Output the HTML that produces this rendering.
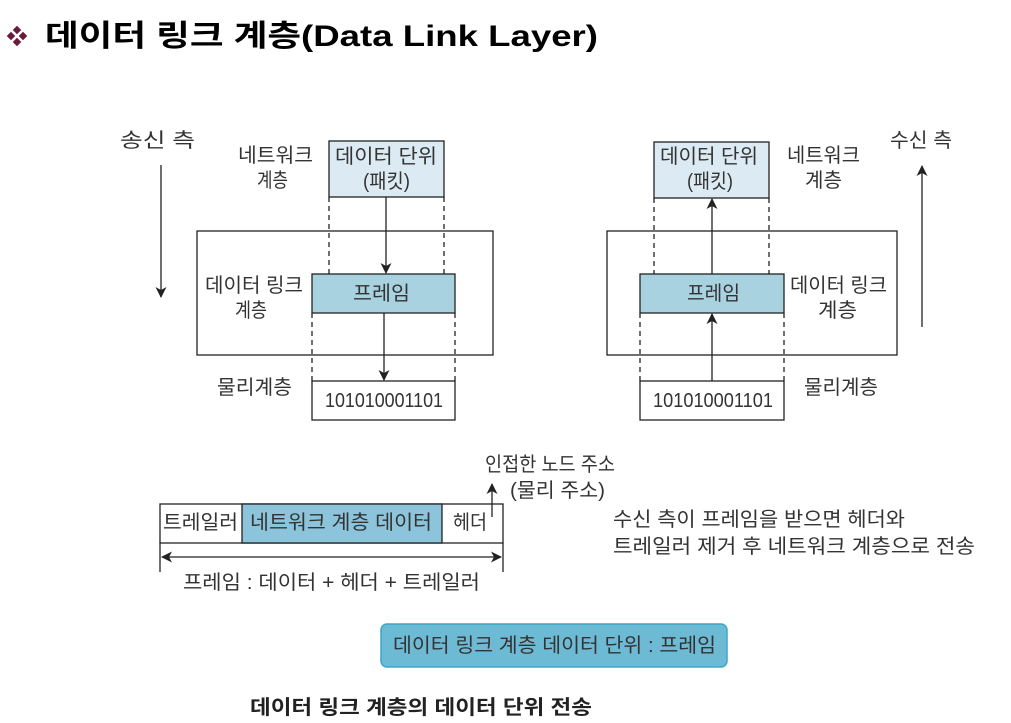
<!DOCTYPE html>
<html><head><meta charset="utf-8"><style>
html,body{margin:0;padding:0;background:#fff;}
svg{display:block;}
text{font-family:"Liberation Sans","Noto Sans CJK KR",sans-serif;fill:#333;font-size:20px;}
</style></head><body>
<svg width="1011" height="723" viewBox="0 0 1011 723">
<defs><marker id="a" markerWidth="11" markerHeight="11" refX="10" refY="5.5" orient="auto-start-reverse" markerUnits="userSpaceOnUse"><path d="M0,0 L11,5.5 L0,11 L3,5.5 z" fill="#222"/></marker></defs>
<g fill="#6a1a3a">
<rect x="14" y="27" width="6" height="6" transform="rotate(45 17 30)"/>
<rect x="14" y="39" width="6" height="6" transform="rotate(45 17 42)"/>
<rect x="8" y="33" width="6" height="6" transform="rotate(45 11 36)"/>
<rect x="20" y="33" width="6" height="6" transform="rotate(45 23 36)"/>
</g>
<text x="45" y="46" textLength="553" lengthAdjust="spacingAndGlyphs" style="font-size:30px;font-weight:bold;fill:#000">데이터 링크 계층(Data Link Layer)</text>

<g stroke="#222" stroke-width="1.3" fill="none">
<rect x="197" y="231" width="296" height="124"/>
<rect x="329" y="141" width="115" height="56" fill="#dcebf3"/>
<rect x="312" y="274" width="143" height="39" fill="#a9d2e1"/>
<rect x="312" y="381" width="143" height="39" fill="#fff"/>
<g stroke-dasharray="5,4"><line x1="329" y1="197" x2="329" y2="274"/><line x1="444" y1="197" x2="444" y2="274"/><line x1="312" y1="313" x2="312" y2="381"/><line x1="455" y1="313" x2="455" y2="381"/></g>
<line x1="386" y1="197" x2="386" y2="273" marker-end="url(#a)"/>
<line x1="384" y1="313" x2="384" y2="380" marker-end="url(#a)"/>
<line x1="161" y1="165" x2="161" y2="297" marker-end="url(#a)"/>
<rect x="607" y="231" width="290" height="124"/>
<rect x="654" y="142" width="115" height="56" fill="#dcebf3"/>
<rect x="640" y="274" width="144" height="39" fill="#a9d2e1"/>
<rect x="640" y="381" width="144" height="39" fill="#fff"/>
<g stroke-dasharray="5,4"><line x1="654" y1="198" x2="654" y2="274"/><line x1="769" y1="198" x2="769" y2="274"/><line x1="640" y1="313" x2="640" y2="381"/><line x1="784" y1="313" x2="784" y2="381"/></g>
<line x1="712" y1="274" x2="712" y2="199" marker-end="url(#a)"/>
<line x1="712" y1="381" x2="712" y2="314" marker-end="url(#a)"/>
<line x1="922" y1="327" x2="922" y2="166" marker-end="url(#a)"/>
<rect x="160" y="504" width="343" height="39" fill="#fff"/>
<rect x="242" y="504" width="200" height="39" fill="#8cc4dc"/>
<line x1="160" y1="543" x2="160" y2="572"/><line x1="503" y1="543" x2="503" y2="572"/>
<line x1="162" y1="557" x2="501" y2="557" marker-end="url(#a)" marker-start="url(#a)"/>
<line x1="492" y1="517" x2="492" y2="484" marker-end="url(#a)"/>
</g>
<text x="120" y="147" textLength="75" lengthAdjust="spacingAndGlyphs">송신 측</text>
<text x="238" y="162" textLength="75" lengthAdjust="spacingAndGlyphs">네트워크</text><text x="257" y="187" textLength="31" lengthAdjust="spacingAndGlyphs">계층</text>
<text x="335" y="163" textLength="102" lengthAdjust="spacingAndGlyphs">데이터 단위</text><text x="363" y="188" textLength="47" lengthAdjust="spacingAndGlyphs">(패킷)</text>
<text x="205" y="292" textLength="98" lengthAdjust="spacingAndGlyphs">데이터 링크</text><text x="235" y="317" textLength="32" lengthAdjust="spacingAndGlyphs">계층</text>
<text x="353" y="300" textLength="57" lengthAdjust="spacingAndGlyphs">프레임</text>
<text x="217" y="394" textLength="75" lengthAdjust="spacingAndGlyphs">물리계층</text>
<text x="325" y="407" textLength="118" lengthAdjust="spacingAndGlyphs">101010001101</text>

<text x="890" y="147" textLength="62" lengthAdjust="spacingAndGlyphs">수신 측</text>
<text x="787" y="162" textLength="73" lengthAdjust="spacingAndGlyphs">네트워크</text><text x="805" y="187" textLength="37" lengthAdjust="spacingAndGlyphs">계층</text>
<text x="660" y="163" textLength="98" lengthAdjust="spacingAndGlyphs">데이터 단위</text><text x="687" y="188" textLength="46" lengthAdjust="spacingAndGlyphs">(패킷)</text>
<text x="790" y="292" textLength="97" lengthAdjust="spacingAndGlyphs">데이터 링크</text><text x="818" y="317" textLength="39" lengthAdjust="spacingAndGlyphs">계층</text>
<text x="687" y="300" textLength="53" lengthAdjust="spacingAndGlyphs">프레임</text>
<text x="804" y="394" textLength="74" lengthAdjust="spacingAndGlyphs">물리계층</text>
<text x="653" y="407" textLength="120" lengthAdjust="spacingAndGlyphs">101010001101</text>

<text x="163" y="529" textLength="75" lengthAdjust="spacingAndGlyphs">트레일러</text>
<text x="250" y="529" textLength="182" lengthAdjust="spacingAndGlyphs">네트워크 계층 데이터</text>
<text x="453" y="529" textLength="34" lengthAdjust="spacingAndGlyphs">헤더</text>
<text x="183" y="589" textLength="297" lengthAdjust="spacingAndGlyphs">프레임 : 데이터 + 헤더 + 트레일러</text>
<text x="485" y="471" textLength="130" lengthAdjust="spacingAndGlyphs">인접한 노드 주소</text>
<text x="510" y="497" textLength="95" lengthAdjust="spacingAndGlyphs">(물리 주소)</text>
<text x="613" y="526" textLength="292" lengthAdjust="spacingAndGlyphs">수신 측이 프레임을 받으면 헤더와</text>
<text x="613" y="553" textLength="362" lengthAdjust="spacingAndGlyphs">트레일러 제거 후 네트워크 계층으로 전송</text>
<rect x="381" y="624" width="346" height="43" rx="6" fill="#6dbad4" stroke="#3aa8c8" stroke-width="1.5"/>
<text x="393" y="652" textLength="323" lengthAdjust="spacingAndGlyphs">데이터 링크 계층 데이터 단위 : 프레임</text>
<text x="250" y="714" textLength="342" lengthAdjust="spacingAndGlyphs" style="font-size:20px;font-weight:bold;fill:#222">데이터 링크 계층의 데이터 단위 전송</text>
</svg>
</body></html>
